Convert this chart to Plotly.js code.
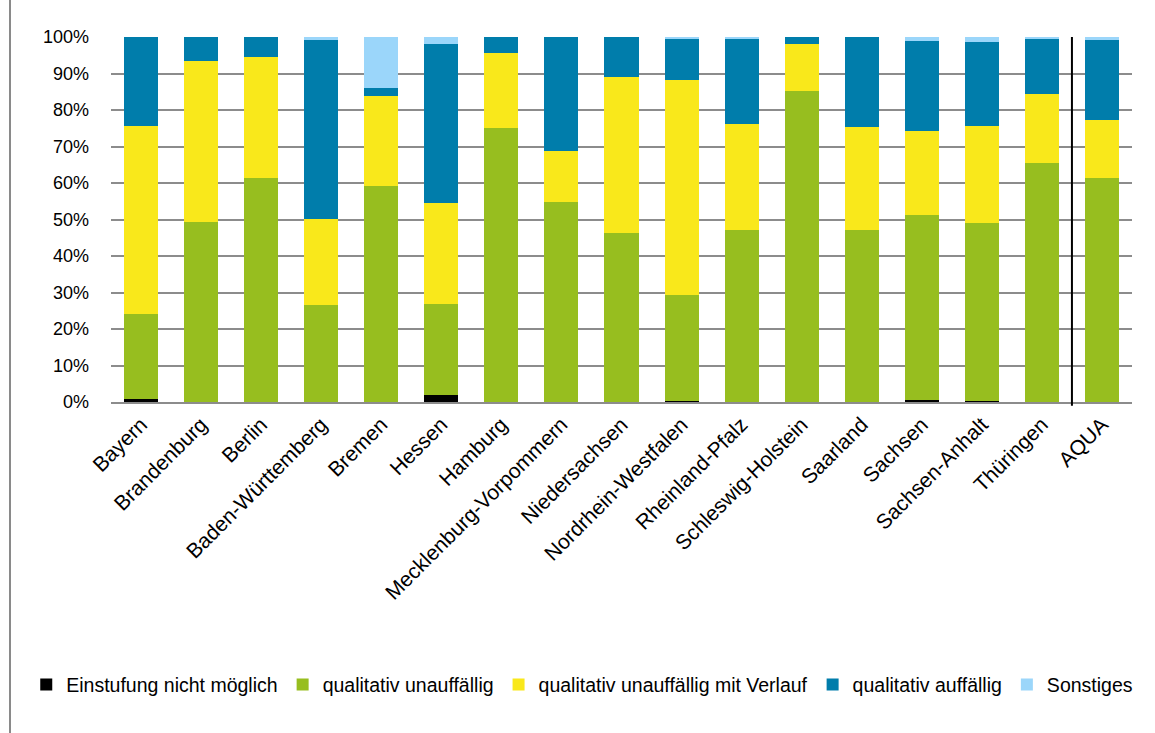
<!DOCTYPE html>
<html>
<head>
<meta charset="utf-8">
<script src="https://cdn.plot.ly/plotly-3.0.1.min.js"></script>
<style>
  html, body { margin: 0; padding: 0; background: #fff; }
  #wrap { position: relative; width: 1155px; height: 733px; }
  #frame { position: absolute; left: 9px; top: 0; width: 2px; height: 733px; background: #8a8a8a; }
  #chart { position: absolute; left: 0; top: 0; width: 1155px; height: 733px; }
</style>
</head>
<body>
<div id="wrap"><div id="chart"></div><div id="frame"></div></div>
<script>
const categories = ["Bayern", "Brandenburg", "Berlin", "Baden-Württemberg", "Bremen", "Hessen", "Hamburg",
  "Mecklenburg-Vorpommern", "Niedersachsen", "Nordrhein-Westfalen", "Rheinland-Pfalz", "Schleswig-Holstein",
  "Saarland", "Sachsen", "Sachsen-Anhalt", "Thüringen", "AQUA"];

const einstufungNichtMoeglich = [0.7, 0, 0, 0, 0, 1.8, 0, 0, 0, 0.3, 0, 0, 0, 0.6, 0.3, 0, 0.1];
const qualitativUnauffaellig = [23.3, 49.3, 61.5, 26.6, 59.2, 25.0, 75.1, 54.8, 46.4, 29.0, 47.1, 85.2, 47.0, 50.6, 48.7, 65.6, 61.3];
const unauffaelligMitVerlauf = [51.6, 44.0, 33.0, 23.5, 24.7, 27.6, 20.6, 13.9, 42.6, 59.0, 29.0, 13.0, 28.3, 23.0, 26.5, 18.9, 15.8];
const qualitativAuffaellig = [24.4, 6.7, 5.5, 49.1, 2.0, 43.7, 4.3, 31.3, 11.0, 11.1, 23.4, 1.8, 24.7, 24.7, 23.2, 15.0, 21.9];
const sonstiges = [0, 0, 0, 0.8, 14.1, 1.9, 0, 0, 0, 0.6, 0.5, 0, 0, 1.1, 1.3, 0.5, 0.9];

const yTickVals = [0, 10, 20, 30, 40, 50, 60, 70, 80, 90, 100];
const yTickText = ["0%", "10%", "20%", "30%", "40%", "50%", "60%", "70%", "80%", "90%", "100%"];

const seriesNames = ["Einstufung nicht möglich", "qualitativ unauffällig", "qualitativ unauffällig mit Verlauf", "qualitativ auffällig", "Sonstiges"];
const seriesData = [einstufungNichtMoeglich, qualitativUnauffaellig, unauffaelligMitVerlauf, qualitativAuffaellig, sonstiges];
const seriesColors = ["#000000", "#97be1f", "#f9e81b", "#007dab", "#9bd6fa"];

const traces = seriesData.map((vals, i) => ({
  type: "bar",
  name: seriesNames[i],
  x: categories,
  y: vals,
  marker: { color: seriesColors[i], line: { width: 0 } },
  hoverinfo: "x+y+name"
}));

const layout = {
  width: 1155,
  height: 733,
  barmode: "stack",
  bargap: 0.433,
  paper_bgcolor: "#ffffff",
  plot_bgcolor: "#ffffff",
  margin: { l: 111, r: 23, t: 37, b: 331 },
  font: { family: "'Liberation Sans', Arial, sans-serif", size: 16, color: "#000" },
  xaxis: {
    type: "category",
    tickangle: -45,
    tickfont: { family: "'Liberation Sans', Arial, sans-serif", size: 21, color: "#000" },
    showline: true,
    linecolor: "#8c8c8c",
    linewidth: 2,
    ticks: "",
    showgrid: false,
    automargin: false
  },
  yaxis: {
    range: [0, 100],
    tickmode: "array",
    tickvals: yTickVals,
    ticktext: yTickText,
    tickfont: { family: "'Liberation Sans', Arial, sans-serif", size: 18, color: "#000" },
    ticklabelstandoff: 21,
    showgrid: true,
    gridcolor: "#8c8c8c",
    gridwidth: 2,
    zeroline: false,
    showline: false,
    ticks: "",
    ticklen: 0,
    automargin: false
  },
  shapes: [{
    type: "line",
    xref: "x",
    yref: "paper",
    x0: 15.5, x1: 15.5,
    y0: -0.01, y1: 1,
    line: { color: "#000", width: 2 }
  }],
  legend: {
    orientation: "h",
    x: -0.083,
    xanchor: "left",
    y: -0.775,
    yanchor: "middle",
    font: { family: "'Liberation Sans', Arial, sans-serif", size: 19.5, color: "#000" },
    itemwidth: 30,
    tracegroupgap: 0,
    traceorder: "normal"
  },
  showlegend: true
};

Plotly.newPlot("chart", traces, layout, { displayModeBar: false, staticPlot: true });
</script>
</body>
</html>
